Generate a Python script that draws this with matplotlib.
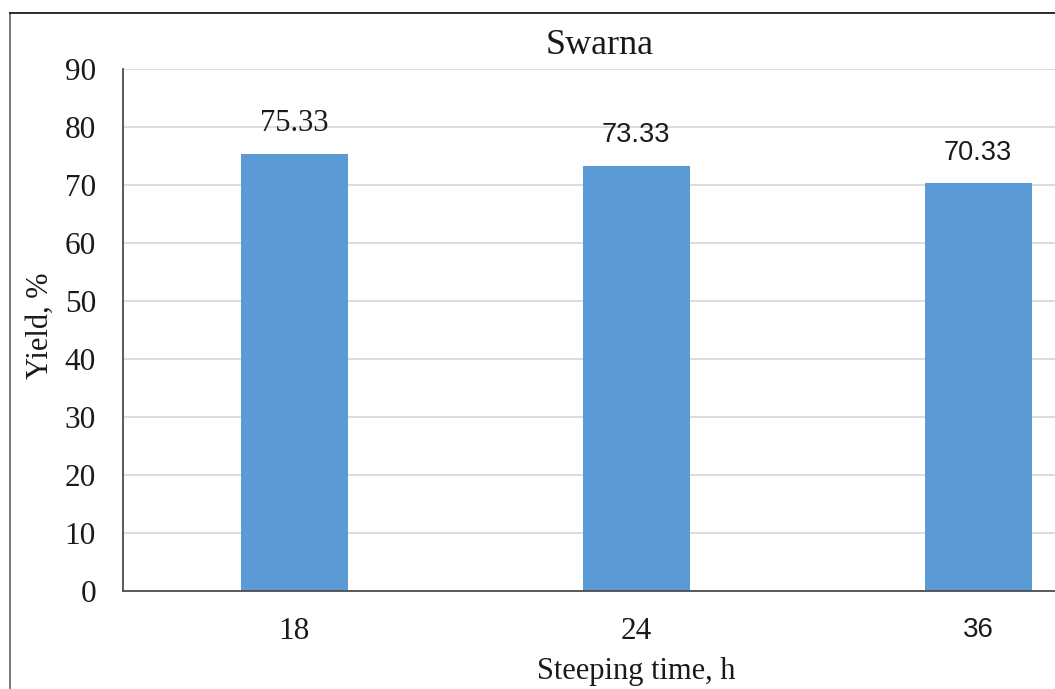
import matplotlib
matplotlib.use("Agg")
import matplotlib.pyplot as plt
from matplotlib.lines import Line2D

# Data
steeping_hours = ["18", "24", "36"]
yield_pct = [75.33, 73.33, 70.33]
y_ticks = [0, 10, 20, 30, 40, 50, 60, 70, 80, 90]

W, H = 1055, 689
fig = plt.figure(figsize=(W / 100, H / 100), dpi=100)
fig.patch.set_facecolor("white")

# Chart frame (left and top edges)
fig.add_artist(Line2D([10 / W, 10 / W], [0, 1 - 12.5 / H], transform=fig.transFigure,
                      color="#6e6e6e", lw=1.3))
fig.add_artist(Line2D([10 / W, 1], [1 - 12.5 / H, 1 - 12.5 / H], transform=fig.transFigure,
                      color="#1a1a1a", lw=1.3))

left_px, right_px = 123, 123 + 3 * 342
top_px, bottom_px = 69, 591
ax = fig.add_axes([left_px / W, 1 - bottom_px / H,
                   (right_px - left_px) / W, (bottom_px - top_px) / H])

serif = ["Liberation Serif", "DejaVu Serif"]
sans = ["Liberation Sans", "DejaVu Sans"]

x = list(range(len(steeping_hours)))
ax.bar(x, yield_pct, width=107 / 342, color="#5B9BD5", zorder=3)

ax.set_xlim(-0.5, 2.5)
ax.set_ylim(0, 90)
ax.set_yticks(y_ticks)
ax.set_yticklabels([str(t) for t in y_ticks], fontfamily=serif, fontsize=22.5)
ax.set_xticks(x)
ax.set_xticklabels(steeping_hours, fontsize=22.5)
tick_fonts = [serif, serif, sans]
for lbl, fam in zip(ax.get_xticklabels(), tick_fonts):
    lbl.set_fontfamily(fam)
    if fam is sans:
        lbl.set_fontsize(20)
ax.tick_params(axis="both", length=0, colors="#1a1a1a")
ax.tick_params(axis="y", pad=19.5)
ax.tick_params(axis="x", pad=19)

ax.grid(axis="y", color="#d9d9d9", lw=1.3, zorder=0)
ax.set_axisbelow(True)
for side in ("top", "right"):
    ax.spines[side].set_visible(False)
for side in ("left", "bottom"):
    ax.spines[side].set_color("#4d4d4d")
    ax.spines[side].set_linewidth(1.3)
ax.spines["bottom"].set_zorder(4)

# Value labels above bars
label_fonts = [(serif, 22), (sans, 19.5), (sans, 19.5)]
for xi, v, (fam, fs) in zip(x, yield_pct, label_fonts):
    ax.annotate(f"{v:.2f}", (xi, v), xytext=(0, 22), textcoords="offset points",
                ha="center", va="center", fontfamily=fam, fontsize=fs, color="#1a1a1a")

fig.text(600 / W, 1 - 45 / H, "Swarna", ha="center", va="center",
         fontfamily=serif, fontsize=26, color="#1a1a1a")
fig.text(40 / W, 1 - 326 / H, "Yield, %", ha="center", va="center", rotation=90,
         fontfamily=serif, fontsize=22, color="#1a1a1a")
fig.text(636 / W, 1 - 671 / H, "Steeping time, h", ha="center", va="center",
         fontfamily=serif, fontsize=22, color="#1a1a1a")

fig.savefig("out.png", dpi=100)
